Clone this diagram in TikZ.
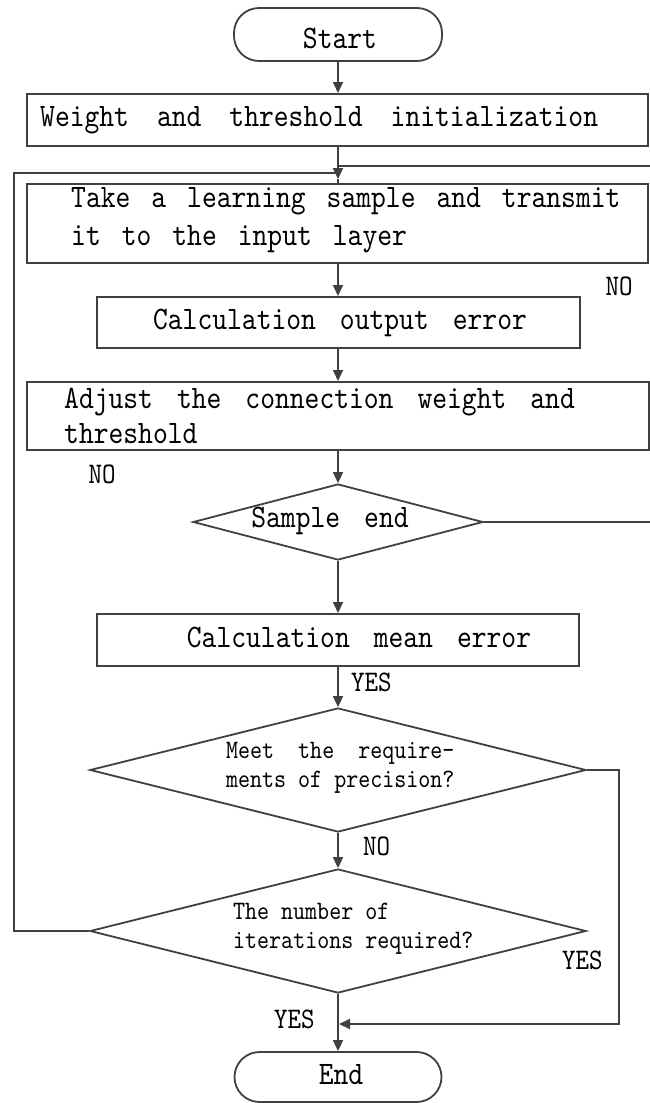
\documentclass[tikz,border=0pt]{standalone}
\usepackage{fontspec}
\usetikzlibrary{shapes.geometric,arrows.meta}
\newfontfamily\monof{lmmono10-regular.otf}[FakeStretch=0.86]
\newcommand\gp[1][24pt]{\hspace*{#1}}
\begin{document}
\begin{tikzpicture}[x=1pt,y=-1pt,
  line/.style={draw=black!75,line width=1.8pt},
  arr/.style={line,-{Triangle[length=11pt,width=10pt]}},
  box/.style={line,rectangle,inner sep=0pt,anchor=north west},
  pill/.style={line,rectangle,inner sep=0pt,rounded corners=25pt},
  dia/.style={line,diamond,inner sep=0pt},
  bigt/.style={inner sep=0pt,font=\monof\fontsize{32.8}{38}\selectfont},
  smallt/.style={inner sep=0pt,font=\monof\fontsize{26.6}{30}\selectfont},
  lab/.style={inner sep=0pt,font=\monof\fontsize{29.9}{34}\selectfont}
]
\fill[white] (0,0) rectangle (649,1103);
\useasboundingbox (0,0) rectangle (649,1103);

% shapes
\node[pill,minimum width=208pt,minimum height=53pt] (start) at (338,34.5) {};
\node[box,minimum width=621pt,minimum height=52pt] (weight) at (26,93) {};
\node[box,minimum width=621pt,minimum height=79pt] (take) at (26,183) {};
\node[box,minimum width=483pt,minimum height=51pt] (calcout) at (96,296) {};
\node[box,minimum width=622pt,minimum height=68pt] (adjust) at (26,381) {};
\node[dia,minimum width=290pt,minimum height=76pt] (sample) at (338,522) {};
\node[box,minimum width=482pt,minimum height=52pt] (mean) at (96,613) {};
\node[dia,minimum width=496pt,minimum height=124pt] (meet) at (338,770) {};
\node[dia,minimum width=496pt,minimum height=124pt] (iter) at (338,931) {};
\node[pill,minimum width=207pt,minimum height=50pt] (end) at (338,1077) {};

% texts
\node[bigt,anchor=base] (startT) at (340,48) {Start};
\node[bigt,anchor=base west] (weightT) at (40,126) {Weight\gp[28pt]and\gp[28pt]threshold\gp[28pt]initialization};
\node[bigt,anchor=base west] (takeA) at (71,207) {Take\gp[21pt]a\gp[21pt]learning\gp[21pt]sample\gp[21pt]and\gp[21pt]transmit};
\node[bigt,anchor=base west] (takeB) at (71,245) {it\gp[21pt]to\gp[21pt]the\gp[21pt]input\gp[21pt]layer};
\node[bigt,anchor=base] (calcoutT) at (340,329) {Calculation\gp output\gp error};
\node[bigt,anchor=base west] (adjustA) at (64,408) {Adjust\gp the\gp connection\gp weight\gp and};
\node[bigt,anchor=base west] (adjustB) at (64,443) {threshold};
\node[bigt,anchor=base] (sampleT) at (330,527) {Sample\gp end};
\node[bigt,anchor=base] (meanT) at (359,647) {Calculation\gp mean\gp error};
\node[smallt,anchor=base west] (meetA) at (226,758) {Meet~~the~~require-};
\node[smallt,anchor=base west] (meetB) at (226,787) {ments of precision?};
\node[smallt,anchor=base west] (iterA) at (233,919) {The number of};
\node[smallt,anchor=base west] (iterB) at (233,948) {iterations required?};
\node[bigt,anchor=base] (endT) at (341,1084) {End};

% labels
\node[lab,anchor=base] (no1) at (619,295) {NO};
\node[lab,anchor=base] (no2) at (102,483) {NO};
\node[lab,anchor=base west] (yes1) at (351,691) {YES};
\node[lab,anchor=base west] (no3) at (363,855) {NO};
\node[lab,anchor=base west] (yes2) at (562,969) {YES};
\node[lab,anchor=base west] (yes3) at (274,1028) {YES};

% helper coordinates
\coordinate (mergeL) at (338,173);
\coordinate (mergeR) at (338,166);
\coordinate (mergeTip) at (338,179);
\coordinate (edgeTop) at (652,166);
\coordinate (edgeMid) at (652,522);
\coordinate (leftX) at (14,931);
\coordinate (rightX) at (619,770);
\coordinate (joinEnd) at (339,1024);

% connectors
\draw[arr] (start.south) -- (start.south |- weight.north);
\draw[arr] (start.south |- weight.south) -- (mergeTip);
\draw[line] (mergeTip) -- (start.south |- take.north);
\draw[arr] (start.south |- take.south) -- (start.south |- calcout.north);
\draw[arr] (start.south |- calcout.south) -- (start.south |- adjust.north);
\draw[arr] (start.south |- adjust.south) -- (sample.north);
\draw[arr] (sample.south) -- (sample.south |- mean.north);
\draw[arr] (sample.south |- mean.south) -- (meet.north);
\draw[arr] (meet.south) -- (iter.north);
\draw[arr] (iter.south) -- (iter.south |- end.north);
\draw[line] (sample.east) -- (edgeMid);
\draw[line] (edgeTop) -- (mergeR);
\draw[line] (iter.west) -- (leftX) |- (mergeL);
\draw[arr] (meet.east) -- (rightX) |- (joinEnd);
\end{tikzpicture}
\end{document}
